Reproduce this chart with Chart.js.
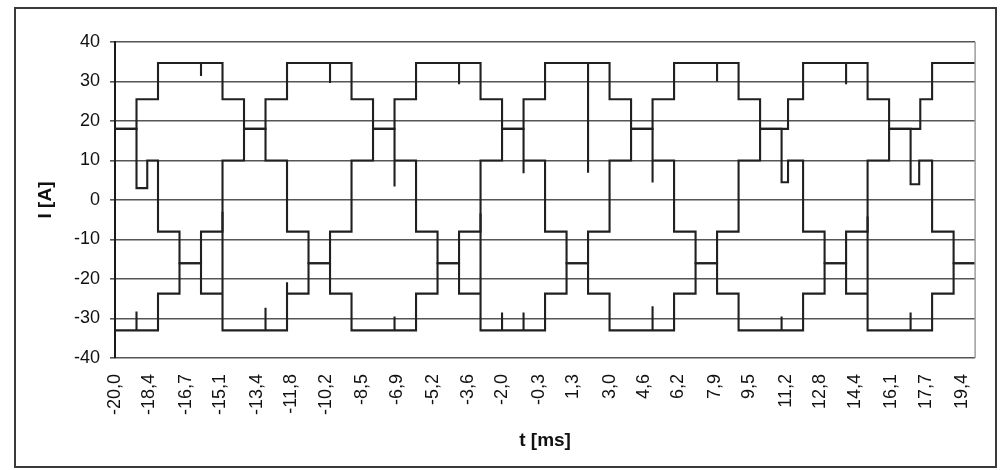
<!DOCTYPE html>
<html>
<head>
<meta charset="utf-8">
<title>I [A] - t [ms]</title>
<script src="https://cdn.jsdelivr.net/npm/chart.js@4.4.1/dist/chart.umd.min.js"></script>
<style>
  html, body { margin: 0; padding: 0; background: #fff; }
  #wrap { position: relative; width: 1000px; height: 470px; }
</style>
</head>
<body>
<div id="wrap"><canvas id="currentChart" width="1000" height="470"></canvas></div>
<script>
// ---------------------------------------------------------------
// data (time in ms, current in A)
// ---------------------------------------------------------------

// switching instants: one step every ~1 ms
const stepTimes = [-20, -19, -18, -17, -16, -15, -14, -13, -12, -11, -10, -9, -8, -7, -6, -5, -4, -3, -2, -1,
                   0, 1, 2, 3, 4, 5, 6, 7, 8, 9, 10, 11, 12, 13, 14, 15, 16, 17, 18, 19, 20];

// current level of each phase between two switching instants
const phaseA = [18, 25.5, 34.7, 34.7, 34.7, 25.5, 18, 10, -8, -16, -23.7, -33, -33, -33, -23.7, -16, -8, 10, 18, 25.5,
                34.7, 34.7, 34.7, 25.5, 18, 10, -8, -16, -23.7, -33, -33, -33, -23.7, -16, -8, 10, 18, 25.5, 34.7, 34.7];
const phaseB = [-33, -33, -23.7, -16, -8, 10, 18, 25.5, 34.7, 34.7, 34.7, 25.5, 18, 10, -8, -16, -23.7, -33, -33, -33,
                -23.7, -16, -8, 10, 18, 25.5, 34.7, 34.7, 34.7, 25.5, 18, 10, -8, -16, -23.7, -33, -33, -33, -23.7, -16];
const phaseC = [18, 10, -8, -16, -23.7, -33, -33, -33, -23.7, -16, -8, 10, 18, 25.5, 34.7, 34.7, 34.7, 25.5, 18, 10,
                -8, -16, -23.7, -33, -33, -33, -23.7, -16, -8, 10, 18, 25.5, 34.7, 34.7, 34.7, 25.5, 18, 10, -8, -16];

// short spikes [time, peak]
const spikesA = [[-16.0, 31.4], [-7.0, -29.5], [2.0, 6.9], [5.0, 4.4], [11.0, -29.5]];
const spikesB = [[-19.0, -28.2], [-10.0, 29.6], [-7.0, 3.4], [-3.0, -3.4], [-2.0, -28.5], [-1.0, -28.5],
                 [8.0, 30], [15.0, -4.2], [17.0, -28.5]];
const spikesC = [[-15.0, -3], [-13.0, -27.3], [-12.0, -20.8], [-4.0, 29.3], [-1.0, 6.8], [5.0, -26.9], [14.0, 29.3]];

// glitches at the start of a step [start, end, level]
const glitchA = [[17, 17.45, 18]];
const glitchB = [[11, 11.3, 4.5]];
const glitchC = [[-19, -18.5, 3], [11, 11.3, 18], [17, 17.4, 4]];

// axis ticks
const xTickValues = [-20.0, -18.4, -16.7, -15.1, -13.4, -11.8, -10.2, -8.5, -6.9, -5.2, -3.6, -2.0, -0.3,
                     1.3, 3.0, 4.6, 6.2, 7.9, 9.5, 11.2, 12.8, 14.4, 16.1, 17.7, 19.4];
const yTickValues = [40, 30, 20, 10, 0, -10, -20, -30, -40];

// ---------------------------------------------------------------
// build the stepped traces
// ---------------------------------------------------------------

function buildTrace(levels, spikes, glitches) {
    const pts = [];
    for (let i = 0; i < levels.length; i++) {
        const t0 = stepTimes[i];
        const t1 = stepTimes[i + 1];
        const level = levels[i];
        let start = t0;

        const g = glitches.find(x => x[0] === t0);
        if (g) {
            pts.push({ x: t0, y: g[2] }, { x: g[1], y: g[2] });
            start = g[1];
        }
        pts.push({ x: start, y: level });

        spikes.filter(s => s[0] >= t0 && s[0] < t1).forEach(s => {
            pts.push({ x: s[0], y: level }, { x: s[0], y: s[1] }, { x: s[0], y: level });
        });

        pts.push({ x: t1, y: level });
    }
    return pts;
}

const traceStyle = {
    borderColor: '#202020',
    borderWidth: 2.1,
    pointRadius: 0,
    tension: 0,
    fill: false
};

// ---------------------------------------------------------------
// frame + plot area border
// ---------------------------------------------------------------

const framePlugin = {
    id: 'frame',
    beforeDraw(chart) {
        const ctx = chart.ctx;
        ctx.save();
        ctx.fillStyle = '#ffffff';
        ctx.fillRect(0, 0, chart.width, chart.height);
        ctx.restore();
    },
    afterDraw(chart) {
        const ctx = chart.ctx;
        const a = chart.chartArea;
        ctx.save();
        ctx.strokeStyle = '#9c9c9c';
        ctx.lineWidth = 1.5;
        ctx.beginPath();
        ctx.moveTo(a.right, a.top);
        ctx.lineTo(a.right, a.bottom);
        ctx.stroke();

        ctx.strokeStyle = '#3a3a3a';
        ctx.lineWidth = 2;
        ctx.strokeRect(15, 8, 981, 459);
        ctx.restore();
    }
};

const fontFamily = '"Liberation Sans", Arial, sans-serif';

new Chart(document.getElementById('currentChart'), {
    type: 'line',
    data: {
        datasets: [
            { label: 'A', data: buildTrace(phaseA, spikesA, glitchA), ...traceStyle },
            { label: 'B', data: buildTrace(phaseB, spikesB, glitchB), ...traceStyle },
            { label: 'C', data: buildTrace(phaseC, spikesC, glitchC), ...traceStyle }
        ]
    },
    options: {
        responsive: false,
        animation: false,
        layout: { padding: { top: 42, right: 13, left: 0, bottom: 0 } },
        plugins: {
            legend: { display: false },
            tooltip: { enabled: false }
        },
        scales: {
            x: {
                type: 'linear',
                min: -20,
                max: 20,
                afterFit: scale => { scale.height = 112; },
                afterBuildTicks: scale => {
                    scale.ticks = xTickValues.map(v => ({ value: v }));
                },
                grid: { display: false, drawTicks: false },
                border: { display: false },
                ticks: {
                    autoSkip: false,
                    minRotation: 90,
                    maxRotation: 90,
                    padding: 16,
                    color: '#111',
                    font: { family: fontFamily, size: 18 },
                    callback: v => v.toFixed(1).replace('.', ',')
                },
                title: {
                    display: true,
                    text: 't [ms]',
                    color: '#111',
                    font: { family: fontFamily, size: 19, weight: 'bold' },
                    padding: { top: 0, bottom: 18 }
                }
            },
            y: {
                min: -40,
                max: 40,
                afterFit: scale => { scale.width = 115; },
                afterBuildTicks: scale => {
                    scale.ticks = yTickValues.map(v => ({ value: v }));
                },
                grid: { color: '#555', lineWidth: 1.6, tickLength: 5 },
                border: { display: true, color: '#1a1a1a', width: 2 },
                ticks: {
                    padding: 10,
                    color: '#111',
                    font: { family: fontFamily, size: 18 }
                },
                title: {
                    display: true,
                    text: 'I [A]',
                    color: '#111',
                    font: { family: fontFamily, size: 19, weight: 'bold' },
                    padding: { top: 34, bottom: 0 }
                }
            }
        }
    },
    plugins: [framePlugin]
});
</script>
</body>
</html>
